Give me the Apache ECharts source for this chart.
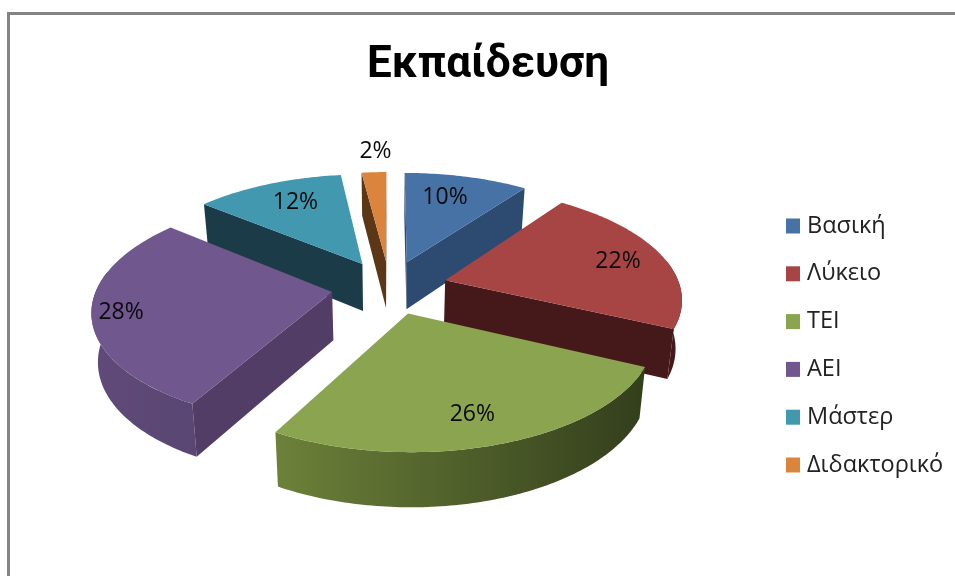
<!DOCTYPE html>
<html>
<head>
<meta charset="utf-8">
<style>
  html, body { margin: 0; padding: 0; background: #fff; }
  #main { width: 955px; height: 576px; }
</style>
<script src="https://cdn.jsdelivr.net/npm/echarts@6/dist/echarts.min.js"></script>
</head>
<body>
<div id="main"></div>
<script>
var categories = ['Βασική', 'Λύκειο', 'ΤΕΙ', 'ΑΕΙ', 'Μάστερ', 'Διδακτορικό'];
var percents = [10, 22, 26, 28, 12, 2];

var topColors = ['#4672a6', '#a74544', '#8aa44f', '#70578e', '#4198af', '#db843d'];
var cutColors = ['#2d4a70', '#45191a', '#343f1c', '#513d66', '#1b3b48', '#5c3717'];
var wallStops = [
    ['#2d4a70', '#2d4a70'],
    ['#45191a', '#45191a'],
    ['#6c8139', '#333e1c'],
    ['#5f4a79', '#5a4672'],
    ['#1b3b48', '#1b3b48'],
    ['#5c3717', '#5c3717']
];
var drawOrder = [1, 5, 6, 4, 3, 2];
var labelRadius = [0.72, 0.79, 0.79, 0.88, 0.74, 1.27];
var labelTurn = [-2.5, 1, 1.5, -1, 2, 1];

// ground plane of the pie and how it lands on screen
var cx = 389.5, cy = 287, R = 235, explode = 58, tilt = 0.465, persp = 1585, depth = 48, shrink = 0.978;

function sc(Y) {
    return persp / (persp + Y);
}
function topPt(X, Y) {
    var s = sc(Y);
    return [cx + X * s, cy - Y * tilt * s];
}
function botPt(X, Y) {
    var s = sc(Y);
    return [cx + X * s * shrink, cy - Y * tilt * s * shrink + depth * s];
}

var total = percents.reduce(function (a, b) { return a + b; }, 0);

function renderSlice(idx) {
    return function (params, api) {
        var v = api.value(0);
        var before = 0;
        for (var k = 0; k < idx; k++) before += percents[k];
        var a0 = before / total * Math.PI * 2;
        var a1 = (before + v) / total * Math.PI * 2;
        var mid = (a0 + a1) / 2;
        var ax = explode * Math.sin(mid), ay = explode * Math.cos(mid);
        var arc = function (from, to, fn) {
            var pts = [];
            var n = Math.max(2, Math.ceil((to - from) * 60));
            for (var i = 0; i <= n; i++) {
                var a = from + (to - from) * i / n;
                pts.push(fn(ax + R * Math.sin(a), ay + R * Math.cos(a)));
            }
            return pts;
        };
        var children = [];

        // outer wall, only the part turned to the viewer
        var w0 = Math.max(a0, Math.PI * 0.44), w1 = Math.min(a1, Math.PI * 1.56);
        if (w1 > w0) {
            var wall = arc(w0, w1, topPt).concat(arc(w0, w1, botPt).reverse());
            children.push({
                type: 'polygon',
                shape: { points: wall },
                style: {
                    fill: new echarts.graphic.LinearGradient(0, 0, 1, 0, [
                        { offset: 0, color: wallStops[idx][0] },
                        { offset: 1, color: wallStops[idx][1] }
                    ])
                }
            });
        }

        // flat cut faces
        [[a0, a0 - Math.PI / 2], [a1, a1 + Math.PI / 2]].forEach(function (c) {
            if (Math.cos(c[1]) > 0.001) return;
            var ex = ax + R * Math.sin(c[0]), ey = ay + R * Math.cos(c[0]);
            children.push({
                type: 'polygon',
                shape: { points: [topPt(ax, ay), topPt(ex, ey), botPt(ex, ey), botPt(ax, ay)] },
                style: { fill: cutColors[idx] }
            });
        });

        // top face
        var face = [topPt(ax, ay)].concat(arc(a0, a1, topPt));
        children.push({
            type: 'polygon',
            shape: { points: face },
            style: { fill: topColors[idx] }
        });

        var lr = labelRadius[idx] * R;
        var la = mid + labelTurn[idx] * Math.PI / 180;
        var lp = topPt(ax + lr * Math.sin(la), ay + lr * Math.cos(la));
        children.push({
            type: 'text',
            z2: 10,
            style: {
                text: v + '%',
                x: lp[0],
                y: lp[1],
                align: 'center',
                verticalAlign: 'middle',
                fill: '#0a0a0a',
                font: '23px "Open Sans", sans-serif'
            }
        });
        return { type: 'group', children: children };
    };
}

var chart = echarts.init(document.getElementById('main'), null, { renderer: 'canvas' });
chart.setOption({
    animation: false,
    backgroundColor: '#fff',
    title: {
        text: 'Εκπαίδευση',
        left: 483,
        top: 39,
        textAlign: 'center',
        textStyle: { fontFamily: 'Roboto', fontWeight: 'bold', fontSize: 44, color: '#000' }
    },
    legend: {
        orient: 'vertical',
        left: 786,
        top: 214,
        padding: 0,
        itemWidth: 14,
        itemHeight: 15,
        itemGap: 23.8,
        selectedMode: false,
        icon: 'rect',
        data: categories,
        textStyle: { fontFamily: 'Open Sans', fontSize: 23.5, lineHeight: 20, color: '#222', padding: [0, 0, 0, 2] }
    },
    graphic: [
        { type: 'rect', shape: { x: 7, y: 12, width: 948, height: 3 }, style: { fill: '#848484' } },
        { type: 'rect', shape: { x: 7, y: 12, width: 3, height: 564 }, style: { fill: '#848484' } }
    ],
    series: categories.map(function (name, i) {
        return {
            type: 'custom',
            name: name,
            coordinateSystem: 'none',
            silent: true,
            z: drawOrder[i],
            itemStyle: { color: topColors[i] },
            renderItem: renderSlice(i),
            data: [[percents[i]]]
        };
    })
});
window.onresize = chart.resize;
</script>
</body>
</html>
